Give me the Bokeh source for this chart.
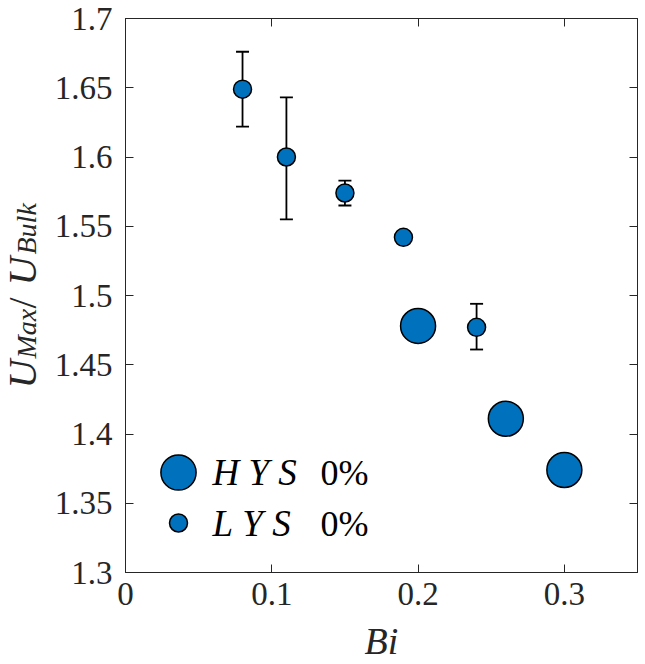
import math
from bokeh.plotting import figure
from bokeh.layouts import row
from bokeh.models import (ColumnDataSource, FixedTicker, LinearAxis, Label, Legend,
                          LegendItem, Range1d, CustomJSTickFormatter)
from bokeh.embed import file_html
from bokeh.resources import INLINE

nan = float("nan")

# ---- data ----
hys_bi = [0.20, 0.26, 0.30]
hys_u = [1.478, 1.411, 1.374]

lys_bi = [0.08, 0.11, 0.15, 0.19, 0.24]
lys_u = [1.649, 1.600, 1.574, 1.542, 1.477]
lys_lo = [1.622, 1.555, 1.565, nan, 1.461]
lys_hi = [1.676, 1.643, 1.583, nan, 1.494]

x_ticks = [0, 0.1, 0.2, 0.3]
x_tick_labels = ["0", "0.1", "0.2", "0.3"]
y_ticks = [1.3, 1.35, 1.4, 1.45, 1.5, 1.55, 1.6, 1.65, 1.7]
y_tick_labels = ["1.3", "1.35", "1.4", "1.45", "1.5", "1.55", "1.6", "1.65", "1.7"]

series_names = ["H\u2005Y\u2005S", "L\u2005Y\u2005S"]
series_suffix = "0%"
x_label = "Bi"
y_label_parts = ["U", "Max", "/", "U", "Bulk"]

FILL = "#0072BD"
AX = "#262626"
SERIF = "Liberation Serif"
TOP, BOTTOM, FRAME_H = 18, 90, 554
H = TOP + FRAME_H + BOTTOM
LEFT_W = 50

p = figure(output_backend="svg", toolbar_location=None,
           frame_width=512, frame_height=FRAME_H,
           x_range=Range1d(0, 0.35), y_range=Range1d(1.3, 1.7),
           min_border_left=125 - LEFT_W, min_border_top=TOP, min_border_right=8,
           min_border_bottom=BOTTOM)
p.background_fill_color = "white"
p.border_fill_color = "white"
p.grid.visible = False
p.outline_line_color = AX
p.outline_line_width = 1

def style_axis(ax, ticks, labels):
    ax.ticker = FixedTicker(ticks=ticks)
    ax.major_label_overrides = dict(zip(ticks, labels))
    ax.minor_tick_line_color = None
    ax.major_tick_in = 8
    ax.major_tick_out = 0
    ax.major_tick_line_color = AX
    ax.axis_line_color = AX
    ax.major_label_text_color = AX
    ax.major_label_text_font = SERIF
    ax.major_label_text_font_size = "33px"

style_axis(p.xaxis[0], x_ticks, x_tick_labels)
style_axis(p.yaxis[0], y_ticks, y_tick_labels)
p.xaxis.major_label_standoff = 10
p.yaxis.major_label_standoff = 13

p.xaxis.axis_label = x_label
p.xaxis.axis_label_text_font = SERIF
p.xaxis.axis_label_text_font_style = "italic"
p.xaxis.axis_label_text_font_size = "38px"
p.xaxis.axis_label_text_color = AX
p.xaxis.axis_label_standoff = 12

blank = CustomJSTickFormatter(code="return ''")
for loc, ticks in (("above", x_ticks), ("right", y_ticks)):
    ax = LinearAxis(ticker=FixedTicker(ticks=ticks), formatter=blank,
                    major_tick_in=8, major_tick_out=0, minor_tick_line_color=None,
                    major_tick_line_color=AX, axis_line_color=AX,
                    major_label_text_font_size="1px", major_label_standoff=0)
    p.add_layout(ax, loc)

# error bars (drawn under the markers)
err = ColumnDataSource(dict(x=lys_bi, lo=lys_lo, hi=lys_hi))
p.segment(x0="x", y0="lo", x1="x", y1="hi", source=err, line_color="black", line_width=1.8)
p.scatter(x="x", y="lo", source=err, marker="dash", size=13, line_color="black", line_width=1.8)
p.scatter(x="x", y="hi", source=err, marker="dash", size=13, line_color="black", line_width=1.8)

r_h = p.scatter(hys_bi, hys_u, size=35, fill_color=FILL, line_color="black", line_width=1.5)
r_l = p.scatter(lys_bi, lys_u, size=18, fill_color=FILL, line_color="black", line_width=1.5)

# legends: one per series so that the marker sizes differ; texts drawn as labels
for name, r, gh, vy, cy in ((series_names[0], r_h, 88, 56, 100), (series_names[1], r_l, 45, 27, 49)):
    lg = Legend(items=[LegendItem(label=" ", renderers=[r])], location=(9, vy),
                glyph_width=88, glyph_height=gh, label_standoff=0,
                padding=0, margin=0, spacing=0,
                border_line_color=None, background_fill_alpha=0,
                label_text_font_size="10px")
    p.add_layout(lg, "center")
    p.add_layout(Label(x=87, y=cy, x_units="screen", y_units="screen", text=name,
                       text_font=SERIF, text_font_style="italic", text_font_size="37px",
                       text_color="black", text_baseline="middle", text_align="left"))
    p.add_layout(Label(x=195, y=cy, x_units="screen", y_units="screen", text=series_suffix,
                       text_font=SERIF, text_font_size="36px", text_color="black",
                       text_baseline="middle", text_align="left"))

# narrow companion figure that carries the rotated y-axis label U_{Max}/U_{Bulk}
q = figure(output_backend="svg", toolbar_location=None, width=LEFT_W, height=H,
           x_range=Range1d(0, 1), y_range=Range1d(0, 1),
           x_axis_type=None, y_axis_type=None,
           min_border_left=0, min_border_right=0,
           min_border_top=TOP, min_border_bottom=BOTTOM)
q.outline_line_color = None
q.grid.visible = False
q.background_fill_color = "white"
q.border_fill_color = "white"

# (font style, size, anchor x, start y) in px from the frame's bottom-left corner
piece_style = [("italic", "40px", 21.5, 182),
               ("italic", "28px", 26, 212),
               ("normal", "40px", 21.5, 262),
               ("italic", "40px", 21.5, 285),
               ("italic", "28px", 26, 316)]
for txt, (style, size, sx, sy) in zip(y_label_parts, piece_style):
    q.add_layout(Label(x=sx, y=sy, x_units="screen", y_units="screen", text=txt,
                       angle=math.pi / 2, text_font=SERIF, text_font_style=style,
                       text_font_size=size, text_color=AX,
                       text_baseline="alphabetic", text_align="left"))

layout = row(q, p, spacing=0)
open("out.html", "w").write(file_html(layout, INLINE))
